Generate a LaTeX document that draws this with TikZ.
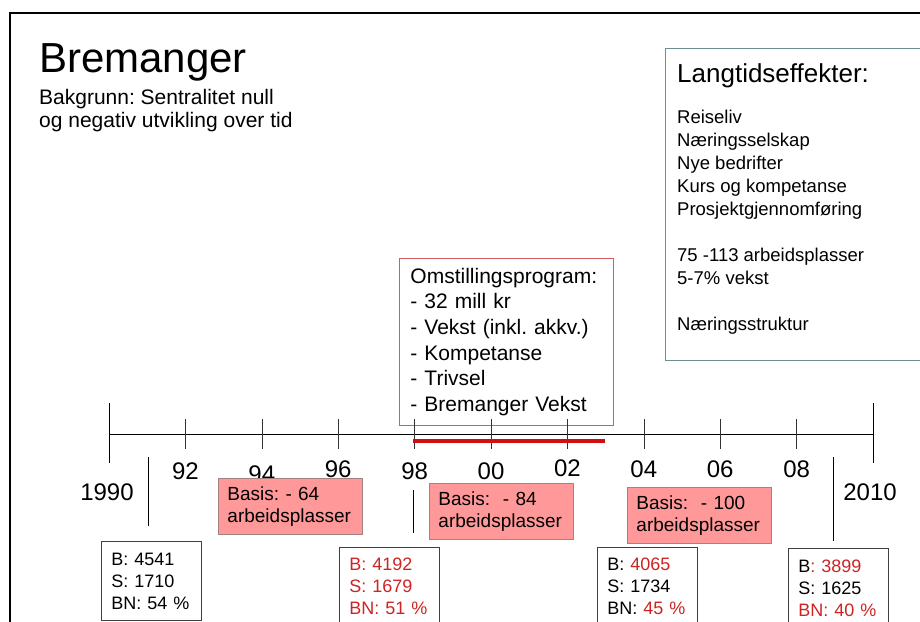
\documentclass[tikz,border=0pt]{standalone}
\usepackage{fontspec}
\setmainfont{Liberation Sans}
\frenchspacing

\definecolor{rodtekst}{RGB}{205,35,35}
\definecolor{rodlinje}{RGB}{208,16,16}
\definecolor{basisfyll}{RGB}{255,153,153}
\definecolor{basiskant}{RGB}{165,130,130}
\definecolor{omstkant}{RGB}{208,96,96}
\definecolor{langkant}{RGB}{110,142,150}

\tikzset{
  tallboks/.style={draw=black!75, line width=0.9pt, anchor=north west, align=left,
    text width=80pt, inner xsep=10pt, minimum height=79pt,
    font=\fontsize{18}{22}\selectfont},
  basisboks/.style={fill=basisfyll, draw=basiskant, line width=0.9pt, anchor=north west,
    align=left, text width=126pt, inner xsep=9pt, minimum height=56pt,
    font=\fontsize{19}{22}\selectfont},
  aar/.style={font=\fontsize{24}{28}\selectfont, inner sep=0pt},
}

\begin{document}
\begin{tikzpicture}[x=1pt,y=-1pt]
\useasboundingbox (0,0) rectangle (920,621);

% ramme
\draw[line width=2pt] (10,640) -- (10,13) -- (940,13);

% overskrift
\node[anchor=base west, inner sep=0pt, font=\fontsize{42}{48}\selectfont] (tittel) at (39,72) {Bremanger};
\node[anchor=base west, inner sep=0pt, align=left, font=\fontsize{21}{23.5}\selectfont] (bakgrunn) at (39,127.5)
  {Bakgrunn: Sentralitet null\\og negativ utvikling over tid};

% langtidseffekter
\node[draw=langkant, line width=0.9pt, anchor=north west, minimum width=275pt, minimum height=312pt] (langboks) at (665,48) {};
\node[anchor=base west, inner sep=0pt, font=\fontsize{26}{30}\selectfont] (langtittel) at (677,82) {Langtidseffekter:};
\node[anchor=base west, inner sep=0pt, align=left, font=\fontsize{18.5}{23}\selectfont] (langliste) at (677,330)
  {Reiseliv\\Næringsselskap\\Nye bedrifter\\Kurs og kompetanse\\Prosjektgjennomføring\\[23pt]
   75 -113 arbeidsplasser\\5-7\% vekst\\[23pt]Næringsstruktur};

% omstillingsprogram
\node[draw=omstkant, line width=0.9pt, anchor=north west, align=left, text width=192pt, inner xsep=11pt,
  minimum height=167pt, font=\fontsize{21}{25.6}\selectfont] (omst) at (399,258)
  {Omstillingsprogram:\\- 32 mill kr\\- Vekst (inkl. akkv.)\\- Kompetanse\\- Trivsel\\- Bremanger Vekst};

% tidslinje
\coordinate (start) at (109,434);
\coordinate (slutt) at (873,434);
\draw (start) -- (slutt);
\draw (109,403) -- (109,463);
\draw (873,403) -- (873,463);
\foreach \i in {1,...,9}
   \draw[black!80] ({109+76.4*\i},419) -- ({109+76.4*\i},449);
\foreach \i/\lab/\y in {1/92/471,2/94/474,3/96/469,4/98/471,5/00/471,6/02/468,7/04/469,8/06/469,9/08/469}
   \node[aar] (aar\i) at ({109+76.4*\i},\y) {\lab};
\node[aar] (aar1990) at (107,492) {1990};
\node[aar] (aar2010) at (870,492) {2010};

\coordinate (omststart) at (413,441);
\coordinate (omstslutt) at (605,441);
\draw[rodlinje, line width=3.3pt] (omststart) -- (omstslutt);

% basis
\node[basisboks] (basis64) at (218,478) {Basis: - 64\\arbeidsplasser};
\node[basisboks] (basis84) at (429,483) {Basis: \ - 84\\arbeidsplasser};
\node[basisboks] (basis100) at (627,487) {Basis: \ - 100\\arbeidsplasser};

% tall
\node[tallboks] (tall90) at (101,541) {B: 4541\\S: 1710\\BN: 54 \%};
\node[tallboks, text=rodtekst, minimum height=78pt] (tall98) at (339,547) {B: 4192\\S: 1679\\BN: 51 \%};
\node[tallboks, minimum height=78pt] (tall04) at (597,547)
  {B: \textcolor{rodtekst}{4065}\\S: 1734\\BN: \textcolor{rodtekst}{45 \%}};
\node[tallboks, minimum height=79pt] (tall10) at (788,548)
  {B\textcolor{rodtekst}{: 3899}\\S: 1625\\\textcolor{rodtekst}{BN: 40 \%}};

\coordinate (strek90a) at (148,457);
\coordinate (strek90b) at (148,526);
\coordinate (strek98a) at (413,490);
\coordinate (strek98b) at (413,533);
\coordinate (strek10a) at (833,457);
\coordinate (strek10b) at (833,541);
\draw (strek90a) -- (strek90b);
\draw (strek98a) -- (strek98b);
\draw (strek10a) -- (strek10b);

\end{tikzpicture}
\end{document}
